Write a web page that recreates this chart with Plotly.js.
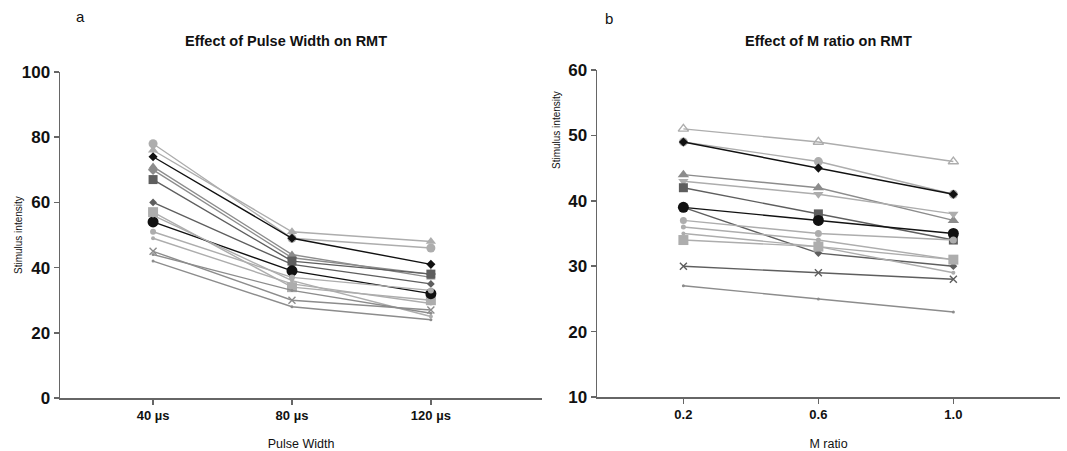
<!DOCTYPE html>
<html>
<head>
<meta charset="utf-8">
<script src="https://cdn.plot.ly/plotly-3.0.1.min.js"></script>
<style>html,body{margin:0;padding:0;background:#fff}#chart{width:1067px;height:451px}</style>
</head>
<body>
<div id="chart"></div>
<script>
// ---- Data ----
const pulseWidths = ["40 µs", "80 µs", "120 µs"];
const mRatios = ["0.2", "0.6", "1.0"];

// Panel a: Pulse width (15 participants)
const pw_s1 = [78, 49, 46];
const pw_s2 = [76, 51, 48];
const pw_s3 = [74, 49, 41];
const pw_s4 = [71, 44, 37];
const pw_s5 = [70, 43, 38];
const pw_s6 = [67, 42, 38];
const pw_s7 = [60, 41, 35];
const pw_s8 = [57, 34, 30];
const pw_s9 = [54, 39, 32];
const pw_s10 = [56, 36, 25];
const pw_s11 = [51, 37, 33];
const pw_s12 = [49, 35, 29];
const pw_s13 = [45, 30, 27];
const pw_s14 = [44, 33, 26];
const pw_s15 = [42, 28, 24];

// Panel b: M ratio (14 participants)
const mr_s1 = [51, 49, 46];
const mr_s2 = [49, 46, 41];
const mr_s3 = [49, 45, 41];
const mr_s4 = [44, 42, 37];
const mr_s5 = [43, 41, 38];
const mr_s6 = [42, 38, 34];
const mr_s7 = [39, 32, 30];
const mr_s8 = [39, 37, 35];
const mr_s9 = [37, 35, 34];
const mr_s10 = [36, 34, 31];
const mr_s11 = [35, 33, 29];
const mr_s12 = [34, 33, 31];
const mr_s13 = [30, 29, 28];
const mr_s14 = [27, 25, 23];

// ---- Styles ----
const K = "#111111", D = "#5e5e5e", M = "#8c8c8c", L = "#adadad";
const styleA = [
  {c: L, s: "circle", z: 9},
  {c: L, s: "triangle-up", z: 9},
  {c: K, s: "diamond", z: 7},
  {c: M, s: "triangle-up", z: 8},
  {c: M, s: "diamond", z: 8},
  {c: D, s: "square", z: 9},
  {c: D, s: "diamond", z: 6},
  {c: L, s: "square", z: 10},
  {c: K, s: "circle", z: 11},
  {c: L, s: "circle", z: 4},
  {c: L, s: "circle", z: 6},
  {c: L, s: "circle", z: 4},
  {c: M, s: "x-thin", z: 7},
  {c: M, s: "circle", z: 3},
  {c: M, s: "circle", z: 3}
];
const styleB = [
  {c: L, s: "triangle-up-open", z: 9},
  {c: L, s: "circle", z: 9},
  {c: K, s: "diamond", z: 7},
  {c: M, s: "triangle-up", z: 10},
  {c: L, s: "triangle-down", z: 9},
  {c: D, s: "square", z: 9},
  {c: D, s: "diamond", z: 6},
  {c: K, s: "circle", z: 11},
  {c: L, s: "circle", z: 7},
  {c: L, s: "circle", z: 5},
  {c: L, s: "circle", z: 4},
  {c: L, s: "square", z: 10},
  {c: D, s: "x-thin", z: 7},
  {c: M, s: "circle", z: 3}
];
const seriesA = [pw_s1,pw_s2,pw_s3,pw_s4,pw_s5,pw_s6,pw_s7,pw_s8,pw_s9,pw_s10,pw_s11,pw_s12,pw_s13,pw_s14,pw_s15];
const seriesB = [mr_s1,mr_s2,mr_s3,mr_s4,mr_s5,mr_s6,mr_s7,mr_s8,mr_s9,mr_s10,mr_s11,mr_s12,mr_s13,mr_s14];

function mk(v, st, xa, ya) {
  const outline = st.s.indexOf("open") >= 0 || st.s === "x-thin";
  return {
    x: [0, 1, 2], y: v, xaxis: xa, yaxis: ya, mode: "lines+markers",
    line: {color: st.c, width: 1.4},
    marker: {symbol: st.s, size: st.z, color: st.c, line: {color: st.c, width: outline ? 1.4 : 0}},
    showlegend: false, hoverinfo: "y"
  };
}
const traces = [];
seriesA.forEach((v, i) => traces.push(mk(v, styleA[i], "x", "y")));
seriesB.forEach((v, i) => traces.push(mk(v, styleB[i], "x2", "y2")));

const FONT = "Liberation Sans, Arial, sans-serif";
const axisLine = {showline: true, linecolor: "#666", linewidth: 1.5, ticks: "outside", ticklen: 5, tickwidth: 1.5, tickcolor: "#666", showgrid: false, zeroline: false};

const layout = {
  width: 1067, height: 451,
  margin: {l: 0, r: 0, t: 0, b: 0},
  paper_bgcolor: "#fff", plot_bgcolor: "#fff",
  font: {family: FONT, color: "#111"},
  xaxis: Object.assign({}, axisLine, {
    domain: [60/1067, 542/1067], range: [-0.67, 2.8],
    tickvals: [0, 1, 2], ticktext: pulseWidths,
    tickfont: {size: 13, family: FONT, weight: "bold"},
    title: {text: "Pulse Width", font: {size: 12.5, family: FONT}, standoff: 21}
  }),
  yaxis: Object.assign({}, axisLine, {
    domain: [53/451, 379/451], range: [0, 100],
    tickvals: [0, 20, 40, 60, 80, 100],
    tickfont: {size: 17, family: FONT, weight: "bold"}
  }),
  xaxis2: Object.assign({}, axisLine, {
    domain: [597/1067, 1060/1067], range: [-0.64, 2.79], anchor: "y2",
    tickvals: [0, 1, 2], ticktext: mRatios,
    tickfont: {size: 13, family: FONT, weight: "bold"},
    title: {text: "M ratio", font: {size: 12.5, family: FONT}, standoff: 21}
  }),
  yaxis2: Object.assign({}, axisLine, {
    domain: [54/451, 381/451], range: [10, 60], anchor: "x2",
    tickvals: [10, 20, 30, 40, 50, 60],
    tickfont: {size: 17, family: FONT, weight: "bold"}
  }),
  annotations: [
    {text: "a", x: 80/1067, y: 1 - 16/451, xref: "paper", yref: "paper", showarrow: false, font: {size: 15, family: FONT}, xanchor: "center", yanchor: "middle"},
    {text: "b", x: 609/1067, y: 1 - 18/451, xref: "paper", yref: "paper", showarrow: false, font: {size: 15, family: FONT}, xanchor: "center", yanchor: "middle"},
    {text: "<b>Effect of Pulse Width on RMT</b>", x: 286/1067, y: 1 - 41/451, xref: "paper", yref: "paper", showarrow: false, font: {size: 14.5, family: FONT}, xanchor: "center", yanchor: "middle"},
    {text: "<b>Effect of M ratio on RMT</b>", x: 828/1067, y: 1 - 41/451, xref: "paper", yref: "paper", showarrow: false, font: {size: 14.5, family: FONT}, xanchor: "center", yanchor: "middle"},
    {text: "Stimulus intensity", x: 18/1067, y: 1 - 235/451, xref: "paper", yref: "paper", showarrow: false, textangle: -90, font: {size: 10, family: FONT}, xanchor: "center", yanchor: "middle"},
    {text: "Stimulus intensity", x: 556/1067, y: 1 - 130/451, xref: "paper", yref: "paper", showarrow: false, textangle: -90, font: {size: 10, family: FONT}, xanchor: "center", yanchor: "middle"}
  ]
};

Plotly.newPlot("chart", traces, layout, {displayModeBar: false, staticPlot: true});
</script>
</body>
</html>
